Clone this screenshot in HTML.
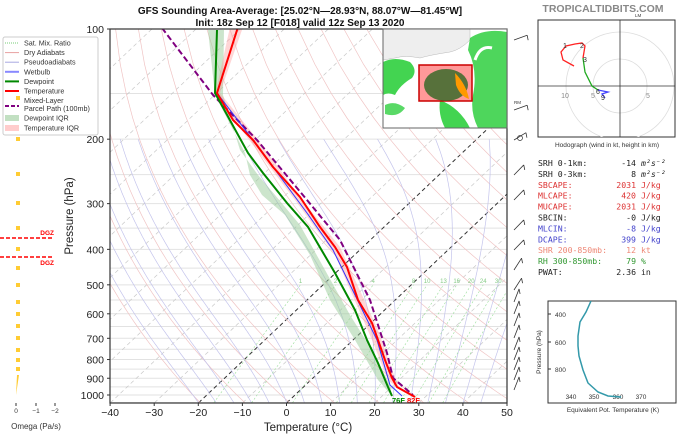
<!DOCTYPE html>
<html><head><meta charset="utf-8"><style>
body{margin:0;background:#fff;width:685px;height:436px;overflow:hidden;font-family:"Liberation Sans","DejaVu Sans",sans-serif}
svg{position:absolute;left:0;top:0}
</style></head><body>
<svg id="s" width="685" height="436" xmlns="http://www.w3.org/2000/svg"></svg>
<script>
const S=document.getElementById('s');let h='';
const Y=p=>29+366*Math.log10(p/100);
const X=(T,p)=>286.5+4.41*T+(403-Y(p))*1.055;
function pl(pts,st){return `<polyline points="${pts.map(a=>a[0].toFixed(1)+','+a[1].toFixed(1)).join(' ')}" fill="none" ${st}/>`;}
h+='<defs><clipPath id="c"><rect x="110" y="29" width="397" height="374"/></clipPath><clipPath id="hc"><rect x="538" y="20" width="137" height="117"/></clipPath><clipPath id="mc"><rect x="383" y="29" width="124" height="99"/></clipPath></defs><g clip-path="url(#c)">';
for(let p=100;p<=1050;p+=50)h+=`<line x1="110" x2="507" y1="${Y(p)}" y2="${Y(p)}" stroke="#e2e2e2" stroke-width="1"/>`;
for(let T=-120;T<=50;T+=10){let k=(T==0||T==-20);h+=pl([[X(T,1050),Y(1050)],[X(T,100),Y(100)]],`stroke="${k?'#333':'#c8c8c8'}" stroke-width="${k?1:0.7}" stroke-dasharray="4,3"`);}
for(let th=250;th<=480;th+=10){let a=[];for(let p=1050;p>=100;p-=25){let T=th*Math.pow(p/1000,0.286)-273.15;a.push([X(T,p),Y(p)]);}h+=pl(a,'stroke="#f0c4c4" stroke-width="0.7"');}
function es(T){return 6.112*Math.exp(17.67*T/(T+243.5));}
for(let T0=-20;T0<=44;T0+=4){let T=T0,a=[];for(let p=1050;p>=200;p-=5){a.push([X(T,p),Y(p)]);let Tk=T+273.15,e=es(T),rs=0.622*e/(p-e),L=2.5e6;let g=(0.286*Tk+L*rs/1004)/(1+L*L*rs*0.622/(1004*287*Tk*Tk));T-=g/p*5;}h+=pl(a,'stroke="#c4c4ec" stroke-width="0.7"');}
[1,2,4,8,10,13,16,20,24,30,36].forEach(w=>{let a=[];for(let p=1050;p>=500;p-=25){let e=w/1000*p/(0.622+w/1000);let l=Math.log(e/6.112);let T=243.5*l/(17.67-l);a.push([X(T,p),Y(p)]);}h+=pl(a,'stroke="#9d9" stroke-width="0.6" stroke-dasharray="2,2"');let l=a[a.length-1];h+=`<text x="${l[0]}" y="${l[1]-2}" font-size="6" fill="#8c8" text-anchor="middle">${w}</text>`;});
h+=`<polygon points="212,30 224,30 223,95 240,150 258,175 275,195 300,225 325,270 350,315 372,350 390,385 392,396 378,380 355,340 330,300 310,255 285,215 262,195 250,175 245,153 215,95 208,30" fill="#9c9" fill-opacity="0.5"/>`;
h+=`<polygon points="234,27 243,27 220,93 258,140 300,197 340,247 378,330 392,370 400,390 388,380 372,340 335,255 295,200 253,145 215,95 230,27" fill="#f99" fill-opacity="0.4"/>`;
h+=pl([[162,28],[213,95],[257,140],[307,200],[340,240],[370,300],[387,353],[393,378],[413,395]],'stroke="#800080" stroke-width="2" stroke-dasharray="6,3"');
h+=pl([[402,396],[390,385],[377,340],[355,295],[333,250],[307,213],[273,167],[253,140],[217,93]],'stroke="#33f" stroke-width="1"');
h+=pl([[392,396],[388,387],[378,363],[367,340],[355,310],[335,273],[308,227],[287,203],[263,173],[248,153],[215,93],[217,30]],'stroke="#080" stroke-width="2"');
h+=pl([[415,397],[397,387],[392,378],[385,360],[378,340],[372,323],[358,300],[347,267],[335,247],[320,227],[300,197],[273,167],[253,140],[233,120],[217,93],[238,27]],'stroke="#f00" stroke-width="2"');
h+='</g>';
h+=`<text x="392" y="403" font-size="7.5" font-weight="bold" fill="#080">76F</text><text x="407" y="403" font-size="7.5" font-weight="bold" fill="#f00">82F</text>`;
h+='<rect x="110" y="29" width="397" height="374" fill="none" stroke="#333" stroke-width="1.2"/>';
// inset map
h+=`<g clip-path="url(#mc)"><rect x="383" y="29" width="124" height="99" fill="#fff"/>
<path d="M383,29 L470,29 L470,40 Q460,50 450,52 Q430,55 420,58 Q405,55 395,58 L383,60Z" fill="#eee" stroke="#aaa" stroke-width="0.4"/>
<path d="M383,62 Q395,56 410,62 Q418,70 412,78 Q400,85 395,95 Q388,92 383,95Z" fill="#2c3" opacity="0.85"/>
<path d="M470,38 Q485,28 507,32 L507,128 L478,128 Q470,112 473,95 Q478,70 468,50Z" fill="#2c3" opacity="0.8"/>
<path d="M440,100 Q460,108 470,128 L445,128 Q438,115 440,100Z" fill="#2c3" opacity="0.85"/>
<path d="M385,105 Q395,100 405,108 Q398,118 385,114Z" fill="#2c3" opacity="0.75"/>
<path d="M475,60 Q480,45 492,48" stroke="#fff" stroke-width="3" fill="none"/></g>
<rect x="383" y="29" width="124" height="99" fill="none" stroke="#666"/>
<rect x="419" y="65" width="53" height="36" fill="#f99" stroke="#c00" stroke-width="1.5"/>
<ellipse cx="446" cy="85" rx="22" ry="16" fill="#3a6a2a" opacity="0.85"/>
<path d="M455,73 Q466,84 469,99 Q460,96 456,85Z" fill="#f90"/>`;
[100,200,300,400,500,600,700,800,900,1000].forEach(p=>{h+=`<text x="104" y="${Y(p)+4}" font-size="10.5" fill="#222" text-anchor="end">${p}</text><line x1="107" x2="110" y1="${Y(p)}" y2="${Y(p)}" stroke="#333"/>`;});
for(let T=-40;T<=50;T+=10){let x=286.5+4.41*T;h+=`<text x="${x}" y="416" font-size="10.5" fill="#222" text-anchor="middle">${T<0?'−'+(-T):T}</text><line x1="${x}" x2="${x}" y1="403" y2="406" stroke="#333"/>`;}
h+=`<text x="308" y="431" font-size="11.5" fill="#222" text-anchor="middle">Temperature (°C)</text>`;
h+=`<text transform="translate(73,216) rotate(-90)" font-size="11.5" fill="#222" text-anchor="middle">Pressure (hPa)</text>`;
h+=`<text x="300" y="14" font-size="10" font-weight="bold" text-anchor="middle" fill="#111">GFS Sounding Area-Average: [25.02°N—28.93°N, 88.07°W—81.45°W]</text><text x="300" y="26" font-size="10" font-weight="bold" text-anchor="middle" fill="#111">Init: 18z Sep 12 [F018] valid 12z Sep 13 2020</text>`;
// legend
h+=`<rect x="3" y="37" width="95" height="98" fill="#fff" stroke="#ccc" rx="2"/>`;
const lg=[['Sat. Mix. Ratio','stroke="#7c7" stroke-dasharray="1,1"'],['Dry Adiabats','stroke="#e8a0a0"'],['Pseudoadiabats','stroke="#a8a8e0"'],['Wetbulb','stroke="#88f" stroke-width="2"'],['Dewpoint','stroke="#080" stroke-width="2"'],['Temperature','stroke="#f00" stroke-width="2"']];
lg.forEach((l,i)=>{let y=43+i*9.6;h+=`<line x1="5" x2="19" y1="${y}" y2="${y}" ${l[1]}/><text x="24" y="${y+2.5}" font-size="7.2" fill="#333">${l[0]}</text>`;});
h+=`<line x1="5" x2="19" y1="106" y2="106" stroke="#800080" stroke-width="2" stroke-dasharray="4,2"/><text x="24" y="103" font-size="7.2" fill="#333">Mixed-Layer</text><text x="24" y="111" font-size="7.2" fill="#333">Parcel Path (100mb)</text>`;
h+=`<rect x="5" y="115" width="14" height="6" fill="#9c9" opacity="0.6"/><text x="24" y="120.5" font-size="7.2" fill="#333">Dewpoint IQR</text><rect x="5" y="125" width="14" height="6" fill="#f99" opacity="0.5"/><text x="24" y="130.5" font-size="7.2" fill="#333">Temperature IQR</text>`;
[98,139,174,203,228,249,268,285,302,314,326,338,350,360,369].forEach(y=>{h+=`<rect x="16" y="${y-2}" width="4" height="4" fill="#fc3"/>`;});
h+=`<polygon points="16,395 17,375 19,375" fill="#fc3"/>`;
h+=`<line x1="0" x2="54" y1="238" y2="238" stroke="red" stroke-width="1.5" stroke-dasharray="4,2"/><line x1="0" x2="54" y1="257" y2="257" stroke="red" stroke-width="1.5" stroke-dasharray="4,2"/><text x="54" y="235" font-size="6.5" font-weight="bold" fill="red" text-anchor="end">DGZ</text><text x="54" y="265" font-size="6.5" font-weight="bold" fill="red" text-anchor="end">DGZ</text>`;
[[16,'0'],[36,'−1'],[55,'−2']].forEach(([x,t])=>{h+=`<line x1="${x}" x2="${x}" y1="403" y2="406" stroke="#333"/><text x="${x}" y="413" font-size="6.5" fill="#333" text-anchor="middle">${t}</text>`;});
h+=`<text x="36" y="429" font-size="8" fill="#333" text-anchor="middle">Omega (Pa/s)</text>`;
const bar=[[40,1],[110,1],[140,2],[175,3],[200,3],[230,3],[250,3],[270,4],[290,4],[302,5],[314,5],[326,5],[338,5],[350,5],[360,5],[370,5],[380,5],[390,5]];
bar.forEach(([y,k])=>{let x1=514,ang=[-0.35,-0.55,-0.8,-1.0,-1.2][k-1];let x2=x1+14*Math.cos(ang),y2=y+14*Math.sin(ang);h+=`<line x1="${x1}" y1="${y}" x2="${x2}" y2="${y2}" stroke="#333" stroke-width="0.8"/><line x1="${x2}" y1="${y2}" x2="${x2+1}" y2="${y2+5}" stroke="#333" stroke-width="0.8"/>`;});
h+=`<circle cx="520" cy="138" r="2.5" fill="none" stroke="#333" stroke-width="0.7"/><text x="514" y="104" font-size="4.5" fill="#333">RM</text>`;
h+=`<text x="603" y="12" font-size="10.5" font-weight="bold" fill="#888" text-anchor="middle">TROPICALTIDBITS.COM</text><text x="635" y="17" font-size="4.5" fill="#333">LM</text>`;
h+=`<rect x="538" y="20" width="137" height="117" fill="#fff" stroke="#333"/>`;
[13.5,27,55].forEach(r=>h+=`<circle cx="620" cy="86" r="${r*2}" fill="none" stroke="#ddd" stroke-width="0.8" clip-path="url(#hc)"/>`);
h+=`<line x1="538" x2="675" y1="86" y2="86" stroke="#333" stroke-width="0.8"/><line x1="620" x2="620" y1="20" y2="137" stroke="#333" stroke-width="0.8"/>`;
h+=`<text x="565" y="98" font-size="7" fill="#888" text-anchor="middle">10</text><text x="593" y="98" font-size="7" fill="#888" text-anchor="middle">5</text><text x="648" y="98" font-size="7" fill="#888" text-anchor="middle">5</text>`;
h+=pl([[574,66],[563,60],[561,52],[566,46],[575,44],[582,43],[585,46],[583,58]],'stroke="#f22" stroke-width="1.3"');
h+=pl([[583,58],[585,72],[592,86],[598,90]],'stroke="#2a2" stroke-width="1.3"');
h+=pl([[598,90],[608,92],[602,94],[605,98]],'stroke="#44f" stroke-width="1.3"');
h+=`<text x="563" y="48" font-size="7" fill="#333">1</text><text x="580" y="48" font-size="7" fill="#333">2</text><text x="583" y="62" font-size="7" fill="#333">3</text><text x="596" y="94" font-size="7" fill="#333">6</text><text x="601" y="100" font-size="7" fill="#333">9</text>`;
h+=`<text x="607" y="147" font-size="6.5" fill="#333" text-anchor="middle">Hodograph (wind in kt, height in km)</text>`;
const st=[['SRH 0-1km:','-14','m²s⁻²','#222'],['SRH 0-3km:','8','m²s⁻²','#222'],['SBCAPE:','2031','J/kg','#d33'],['MLCAPE:','420','J/kg','#d33'],['MUCAPE:','2031','J/kg','#d33'],['SBCIN:','-0','J/kg','#222'],['MLCIN:','-8','J/kg','#44c'],['DCAPE:','399','J/kg','#44c'],['SHR 200-850mb:','12','kt','#e87'],['RH 300-850mb:','79','%','#393'],['PWAT:','2.36','in','#222']];
st.forEach((s,i)=>{let y=166+i*10.9;h+=`<text x="538" y="${y}" font-family="DejaVu Sans Mono,monospace" font-size="8.2" fill="${s[3]}">${s[0]}</text><text x="636" y="${y}" font-family="DejaVu Sans Mono,monospace" font-size="8.2" fill="${s[3]}" text-anchor="end">${s[1]}</text><text x="641" y="${y}" font-family="DejaVu Sans Mono,monospace" font-size="8.2" fill="${s[3]}" ${s[2].includes('m')?'font-style="italic"':''}>${s[2]}</text>`;});
h+=`<rect x="548" y="301" width="128" height="102" fill="#fff" stroke="#333"/>`;
[[400,314],[600,342],[800,369]].forEach(([p,y])=>h+=`<line x1="548" x2="551" y1="${y}" y2="${y}" stroke="#333"/><text x="555" y="${y+3}" font-size="6.5" fill="#333">${p}</text>`);
[[340,571],[350,594],[360,618],[370,641]].forEach(([t,x])=>h+=`<text x="${x}" y="399" font-size="6.5" fill="#333" text-anchor="middle">${t}</text>`);
h+=pl([[591,301],[586,312],[580,322],[578,336],[578,346],[579,356],[583,370],[588,383],[598,392],[608,396],[621,397]],'stroke="#39a" stroke-width="1.5"');
h+=`<text x="613" y="412" font-size="6.5" fill="#333" text-anchor="middle">Equivalent Pot. Temperature (K)</text><text transform="translate(541,352) rotate(-90)" font-size="6.5" fill="#333" text-anchor="middle">Pressure (hPa)</text>`;
S.innerHTML=h;
</script>
</body></html>
